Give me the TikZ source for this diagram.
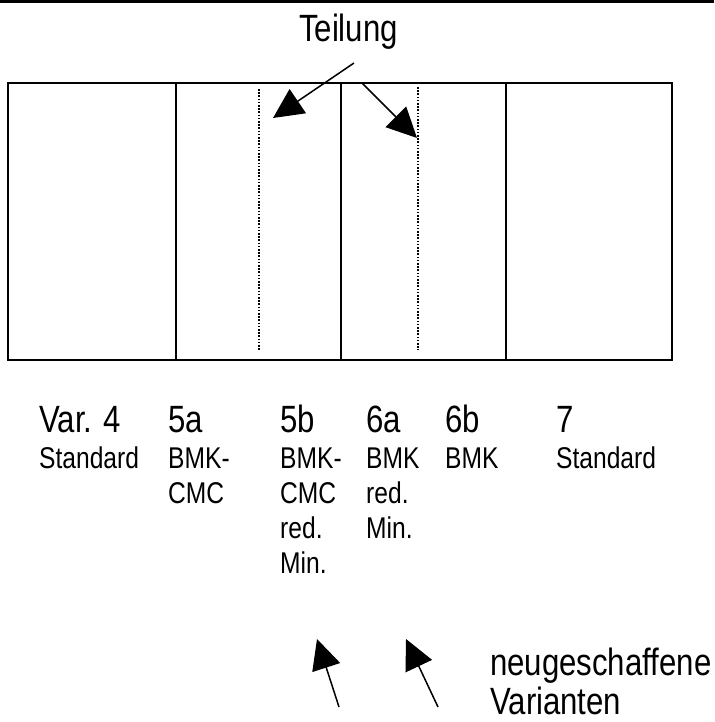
\documentclass[tikz,border=0pt]{standalone}
\usepackage{fontspec}
\setmainfont[FakeStretch=0.82]{Liberation Sans}
\usetikzlibrary{arrows.meta}
\begin{document}
\begin{tikzpicture}[x=1pt,y=-1pt,
  frame/.style={line width=2pt},
  dotline/.style={line width=1.6pt,dash pattern=on 1.6pt off 1.6pt},
  bigarrow/.style={line width=1.5pt,-{Triangle[length=30pt,width=29pt]}},
  headtxt/.style={inner sep=0pt,anchor=base west,font=\fontsize{38}{44}\selectfont},
  subtxt/.style={inner sep=0pt,anchor=base west,font=\fontsize{30}{35}\selectfont},
  bigtxt/.style={inner sep=0pt,font=\fontsize{38}{42}\selectfont}]
\useasboundingbox (0,0) rectangle (714,722);
% top rule
\draw[line width=3pt] (0,1.5) -- (714,1.5);
% main box
\draw[frame] (8,83) rectangle (672,360);
\draw[frame] (176,83) -- (176,360);
\draw[frame] (341,83) -- (341,360);
\draw[frame] (506,83) -- (506,360);
\draw[dotline] (259,89) -- (259,350);
\draw[dotline] (418,87) -- (418,350);
% Teilung
\node[bigtxt,anchor=base] (teil) at (348.5,42) {Teilung};
\coordinate (ta) at (354,63);
\coordinate (tb) at (273,118);
\coordinate (tc) at (362,83);
\coordinate (td) at (417,138);
\draw[bigarrow] (ta) -- (tb);
\draw[bigarrow] (tc) -- (td);
% headers
\node[headtxt] (h4) at (39,432) {Var. 4};
\node[headtxt] (h5a) at (168,432) {5a};
\node[headtxt] (h5b) at (280,432) {5b};
\node[headtxt] (h6a) at (366,432) {6a};
\node[headtxt] (h6b) at (445,432) {6b};
\node[headtxt] (h7) at (556,432) {7};
% sub labels
\node[subtxt] (s4) at (39,468) {Standard};
\node[subtxt] (s5a1) at (168,468) {BMK-};
\node[subtxt] (s5a2) at (168,503) {CMC};
\node[subtxt] (s5b1) at (280,468) {BMK-};
\node[subtxt] (s5b2) at (280,503) {CMC};
\node[subtxt] (s5b3) at (280,538) {red.};
\node[subtxt] (s5b4) at (280,573) {Min.};
\node[subtxt] (s6a1) at (366,468) {BMK};
\node[subtxt] (s6a2) at (366,503) {red.};
\node[subtxt] (s6a3) at (366,538) {Min.};
\node[subtxt] (s6b) at (445,468) {BMK};
\node[subtxt] (s7) at (556,468) {Standard};
% bottom
\node[bigtxt,anchor=base west] (neu1) at (490,675) {neugeschaffene};
\node[bigtxt,anchor=base west] (neu2) at (490,714) {Varianten};
\coordinate (ba) at (339,707);
\coordinate (bb) at (317,639);
\coordinate (bc) at (438,707);
\coordinate (bd) at (406,639);
\draw[bigarrow] (ba) -- (bb);
\draw[bigarrow] (bc) -- (bd);
\end{tikzpicture}
\end{document}
